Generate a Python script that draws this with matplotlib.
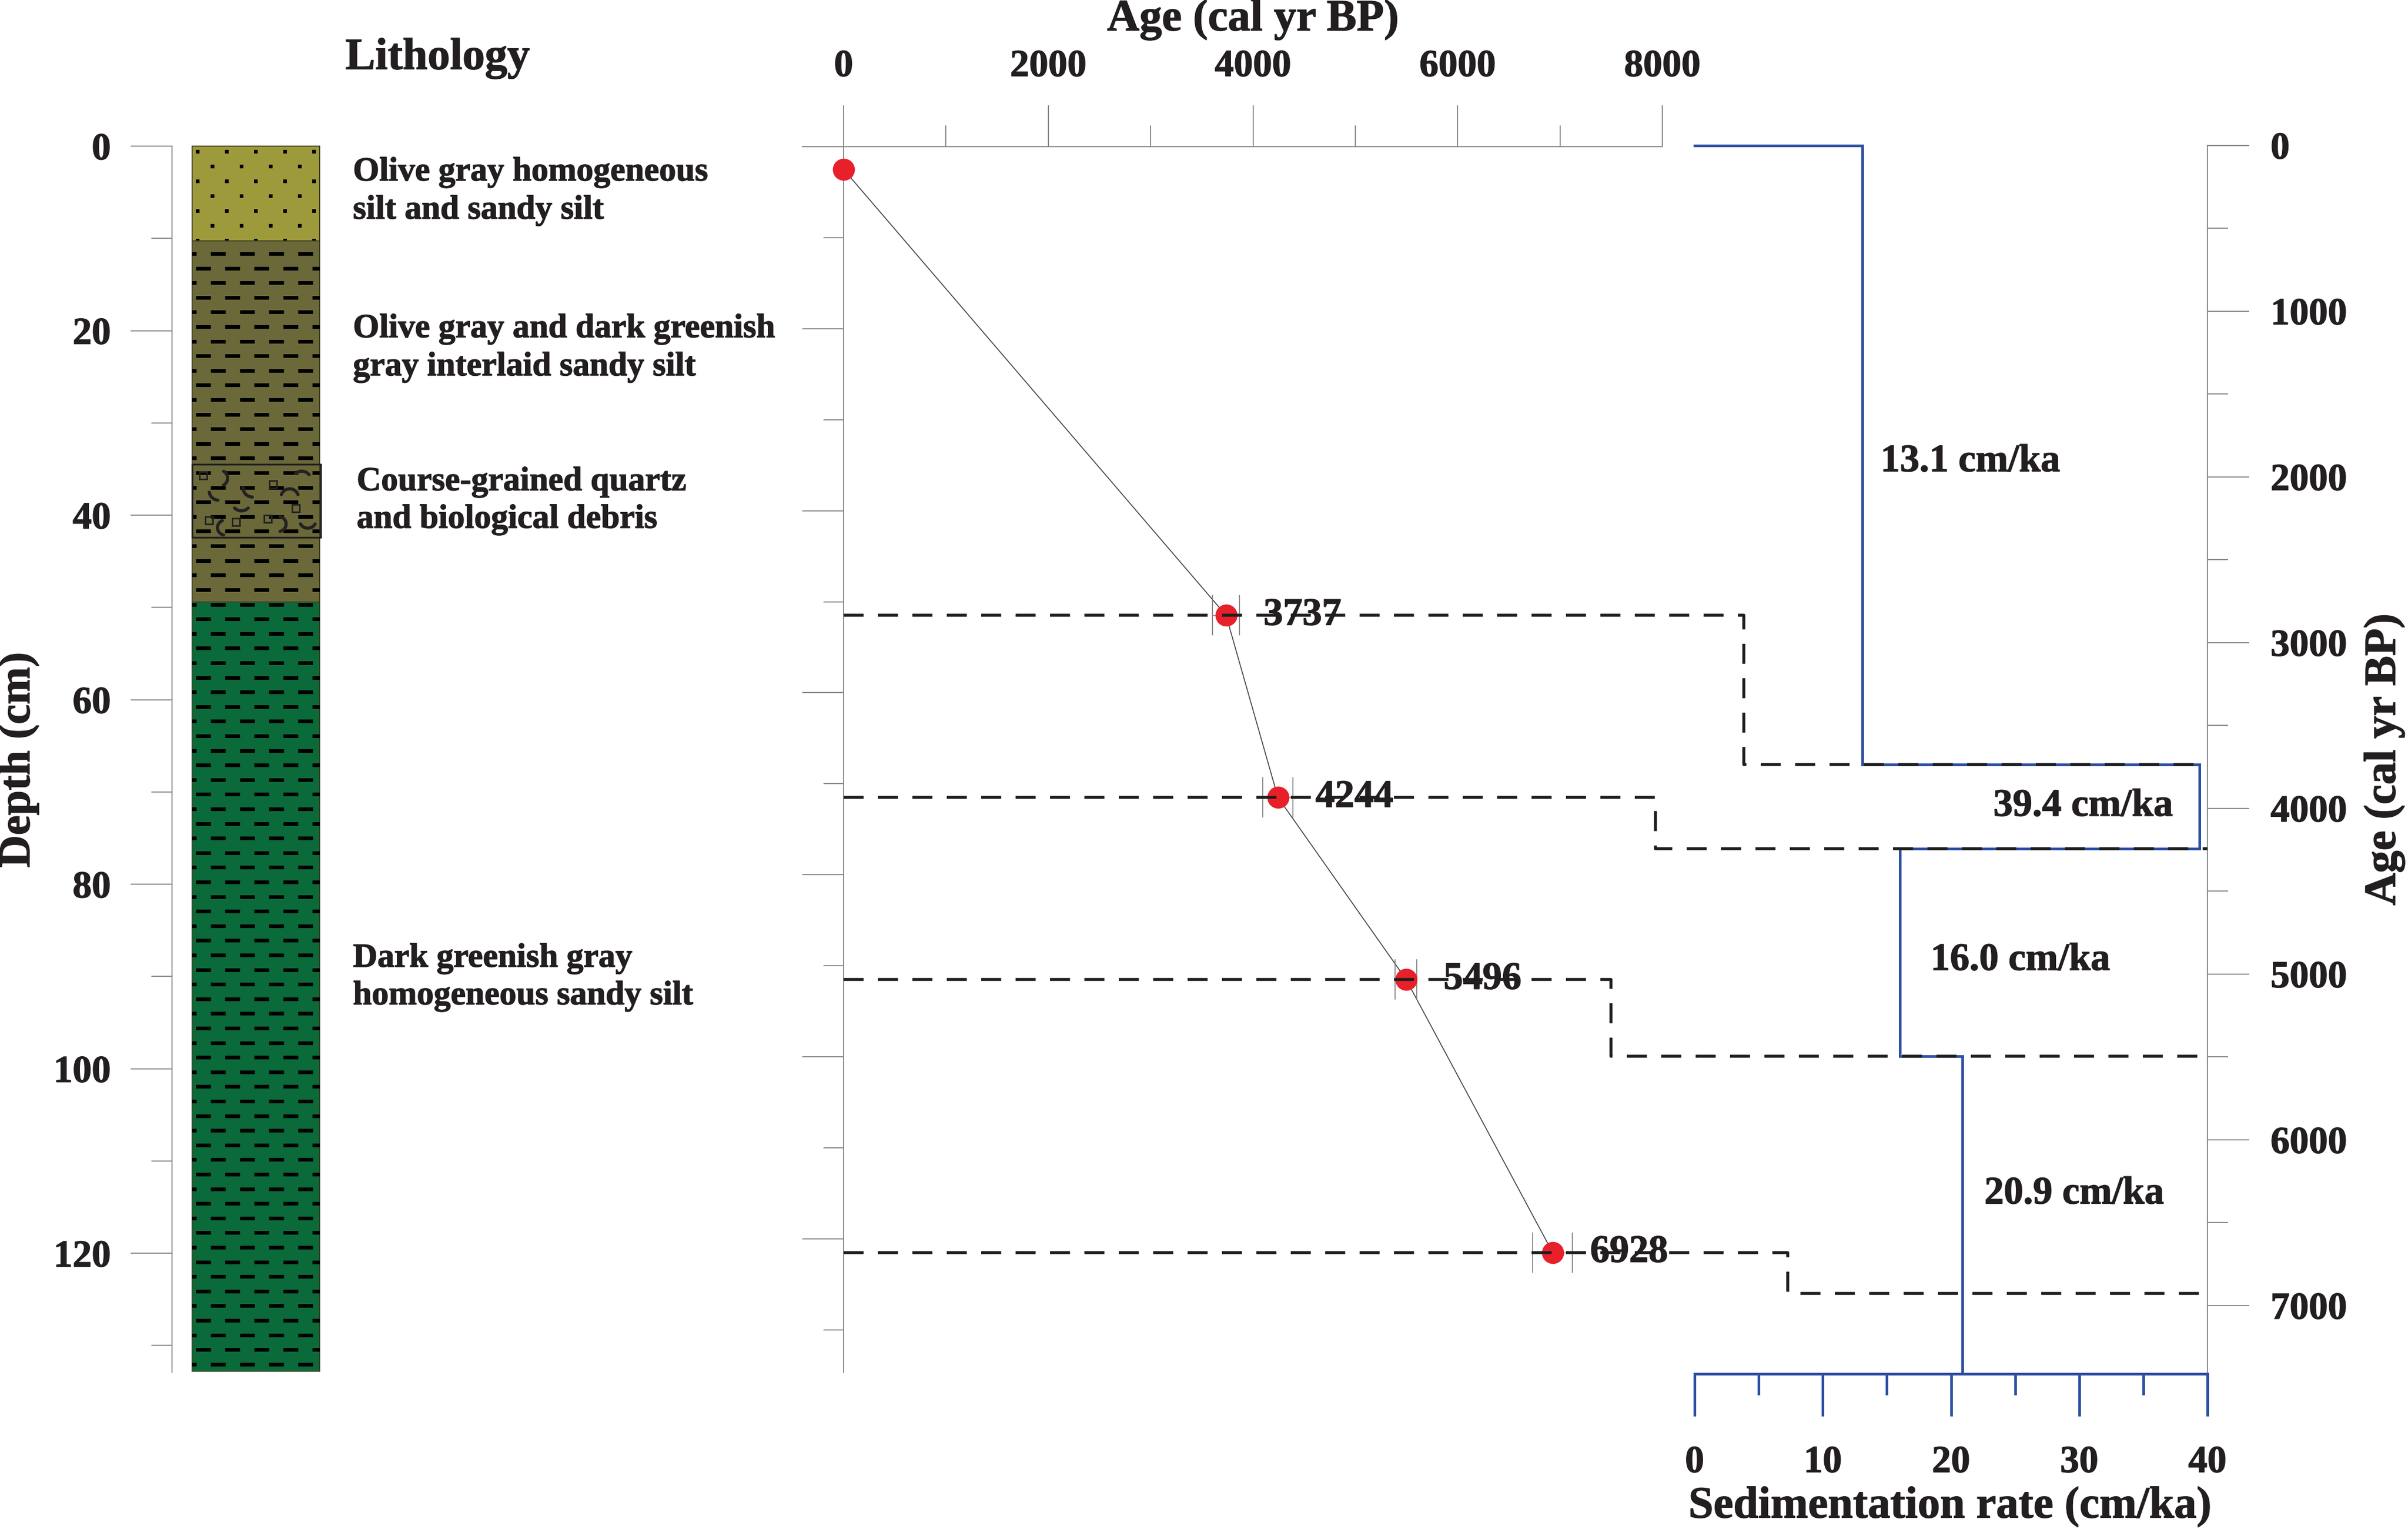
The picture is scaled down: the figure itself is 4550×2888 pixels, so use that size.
import numpy as np
import matplotlib
matplotlib.use('Agg')
import matplotlib.pyplot as plt
import matplotlib.patheffects as pe
from matplotlib.lines import Line2D
from matplotlib.patches import Rectangle
from matplotlib.ticker import MultipleLocator

# ------------------------------------------------------------------ data
depth_cm = [2.5, 51.5, 71.5, 91.5, 121.5]          # dated depths
age_bp = [0, 3737, 4244, 5496, 6928]               # calibrated ages
age_err = [0, 132, 148, 107, 195]                  # 1-sigma age ranges
rate_start_age = [0, 3737, 4244, 5496]             # start of each rate interval
sed_rate = [13.1, 39.4, 16.0, 20.9]                # cm/ka

layer_top = [0, 10.3, 49.4]
layer_bottom = [10.3, 49.4, 132.8]
layer_color = ['#9c9a3b', '#6b6939', '#0b6a3a']
layer_pattern = ['dots', 'dashes', 'dashes']
debris_top, debris_bottom = 34.5, 42.4

lith_labels = [
    ("Olive gray homogeneous", "silt and sandy silt"),
    ("Olive gray and dark greenish", "gray interlaid sandy silt"),
    ("Course-grained quartz", "and biological debris"),
    ("Dark greenish gray", "homogeneous sandy silt"),
]

depth_ticks = [0, 20, 40, 60, 80, 100, 120]
age_top_ticks = [0, 2000, 4000, 6000, 8000]
age_right_ticks = [0, 1000, 2000, 3000, 4000, 5000, 6000, 7000]
rate_ticks = [0, 10, 20, 30, 40]

# ---------------------------------------------------------------- layout
W, H, DPI = 4550, 2888, 100
PT = 72.0 / DPI
plt.rcParams['font.family'] = ['Liberation Serif', 'DejaVu Serif']
plt.rcParams['font.weight'] = 'bold'
TXT = '#231f20'
GRAY = '#8a8a8a'
BLUE = '#2d4fa3'
RED = '#e8202a'
HEAVY = [pe.withStroke(linewidth=1.0, foreground=TXT)]

fig = plt.figure(figsize=(W / DPI, H / DPI), dpi=DPI)


def add_ax(l, t, r, b):
    return fig.add_axes([l / W, 1 - b / H, (r - l) / W, (b - t) / H])


def ftext(x, y, s, **kw):
    fig.text(x / W, 1 - y / H, s, color=TXT, path_effects=HEAVY, **kw)


def heavy_ticklabels(ax):
    for lab in ax.get_xticklabels() + ax.get_yticklabels():
        lab.set_path_effects(HEAVY)


# ------------------------------------------------------ lithology column
ax_l = add_ax(363, 276, 604, 2592)
ax_l.set_xlim(0, 1)
ax_l.set_ylim(132.9, 0)
ax_l.patch.set_visible(False)
for s in ['top', 'right', 'bottom']:
    ax_l.spines[s].set_visible(False)
ax_l.spines['left'].set_position(('outward', 38 * PT))
ax_l.spines['left'].set_color(GRAY)
ax_l.spines['left'].set_linewidth(1.5)
ax_l.set_xticks([])
ax_l.set_yticks(depth_ticks)
ax_l.yaxis.set_minor_locator(MultipleLocator(10))
ax_l.tick_params(axis='y', which='major', length=78 * PT, width=1.5, color=GRAY,
                 labelsize=52, pad=27, labelcolor=TXT)
ax_l.tick_params(axis='y', which='minor', length=39 * PT, width=1.5, color=GRAY)
heavy_ticklabels(ax_l)

COLW = 241.0               # column width in px
PER = 55.0 / COLW          # pattern period
DASH = 28.0 / COLW
for i, (t, b) in enumerate(zip(layer_top, layer_bottom)):
    rect = Rectangle((0, t), 1, b - t, facecolor=layer_color[i], edgecolor='#3f3f22',
                     lw=1.4, zorder=1 + 2 * i, clip_on=False)
    ax_l.add_patch(rect)
    if layer_pattern[i] == 'dots':
        k = 0
        while 0.6 + 1.6 * k < b + 0.3:
            d = 0.6 + 1.6 * k
            ph = (10 if k % 2 == 0 else 38) / COLW
            xs = ph + PER * np.arange(0, 6)
            xs = xs[xs < 1.0]
            ln, = ax_l.plot(xs, np.full(len(xs), d), ls='none', marker='s',
                            ms=7 * PT, color='k', mew=0, zorder=2 + 2 * i)
            ln.set_clip_path(rect)
            k += 1
    else:
        k = 0
        while 11.65 + 1.584 * k < b + 0.3:
            d = 11.65 + 1.584 * k
            if d > t - 0.3:
                ph = (49 if k % 2 == 0 else 21) / COLW
                cs = ph + PER * np.arange(-1, 6)
                lc = ax_l.hlines(np.full(len(cs), d), cs - DASH / 2, cs + DASH / 2,
                                 colors='k', lw=7 * PT, zorder=2 + 2 * i)
                lc.set_capstyle('butt')
                lc.set_clip_path(rect)
            k += 1

# coarse-grained / biological debris box
ax_l.add_patch(Rectangle((0, debris_top), 1.008, debris_bottom - debris_top, fill=False,
                         edgecolor='#1e1e1e', lw=3.3 * PT, zorder=10, clip_on=False))
sq_x = [0.087, 0.635, 0.813, 0.133, 0.344, 0.593]
sq_d = [35.67, 36.66, 39.24, 40.56, 40.77, 40.39]
ax_l.plot(sq_x, sq_d, ls='none', marker='s', ms=14 * PT, mfc='none', mec='#222222',
          mew=3 * PT, zorder=11, clip_on=False)
arcs = [(0.216, 35.99, 15.0, -60, 60), (0.209, 37.33, 18.3, 95, 170),
        (0.472, 37.04, 17.3, 90, 180), (0.859, 36.28, 18.3, 230, 320),
        (0.765, 38.10, 16.7, 200, 340), (0.386, 38.48, 18.3, 45, 135),
        (0.257, 41.35, 14.0, 100, 250), (0.679, 40.96, 14.0, -80, 80),
        (0.907, 40.49, 16.0, 30, 150)]
for cx, cd, r, t1, t2 in arcs:
    th = np.radians(np.linspace(t1, t2, 30))
    ax_l.plot(cx + r * np.cos(th) / COLW, cd + r * np.sin(th) / 17.43, color='#222222',
              lw=6 * PT, solid_capstyle='round', zorder=11, clip_on=False)

# lithology descriptions
lab_x = [667, 667, 674, 667]
lab_y = [(326, 398), (622, 694), (911, 982), (1811, 1882)]
for (l1, l2), x, (y1, y2) in zip(lith_labels, lab_x, lab_y):
    ftext(x, y1, l1, fontsize=46, ha='left', va='center')
    ftext(x, y2, l2, fontsize=46, ha='left', va='center')

# --------------------------------------------------------- age-depth panel
A0, A8 = 1594.0, 3141.0
ax_a = add_ax(1516, 277, A8, 2592)
ax_a.set_xlim(-(A0 - 1516) / (A8 - A0) * 8000, 8000)
ax_a.set_ylim((2592 - 277) / 17.19, 0)
ax_a.patch.set_visible(False)
for s in ['bottom', 'right']:
    ax_a.spines[s].set_visible(False)
ax_a.spines['left'].set_position(('data', 0))
for s in ['left', 'top']:
    ax_a.spines[s].set_color(GRAY)
    ax_a.spines[s].set_linewidth(1.5)
ax_a.xaxis.set_ticks_position('top')
ax_a.set_xticks(age_top_ticks)
ax_a.xaxis.set_minor_locator(MultipleLocator(1000))
ax_a.tick_params(axis='x', which='major', direction='out', length=78 * PT, width=1.5,
                 color=GRAY, labelsize=52, pad=29, labelcolor=TXT)
ax_a.tick_params(axis='x', which='minor', direction='out', length=40 * PT, width=1.5,
                 color=GRAY)
ax_a.yaxis.set_major_locator(MultipleLocator(20))
ax_a.yaxis.set_minor_locator(MultipleLocator(10))
ax_a.tick_params(axis='y', which='major', length=78 * PT, width=1.5, color=GRAY,
                 labelleft=False)
ax_a.tick_params(axis='y', which='minor', length=38 * PT, width=1.5, color=GRAY)
heavy_ticklabels(ax_a)

ax_a.plot(age_bp, depth_cm, color='#444444', lw=1.3, zorder=2, clip_on=False)
ax_a.errorbar(age_bp[1:], depth_cm[1:], xerr=age_err[1:], fmt='none', ecolor='#777777',
              elinewidth=1.0, capsize=27.5, capthick=1.2, zorder=2.5, clip_on=False)
ax_a.plot(age_bp, depth_cm, ls='none', marker='o', ms=30, mfc=RED, mec=RED, mew=0,
          zorder=3, clip_on=False)
for a, d in zip(age_bp[1:], depth_cm[1:]):
    ax_a.annotate(f"{a}", xy=(a, d), xytext=(51, 0), textcoords='offset points',
                  ha='left', va='center', fontsize=53, color=TXT, zorder=4,
                  path_effects=HEAVY)

# ------------------------------------------------ sedimentation-rate panel
ax_r = add_ax(3202, 274.5, 4171, 2595)
RATE_AGE_MAX = (2595 - 274.5) / 0.31305
ax_r.set_xlim(0, 40)
ax_r.set_ylim(RATE_AGE_MAX, 0)
ax_r.patch.set_visible(False)
for s in ['top', 'left']:
    ax_r.spines[s].set_visible(False)
ax_r.spines['bottom'].set_color(BLUE)
ax_r.spines['bottom'].set_linewidth(5 * PT)
ax_r.spines['right'].set_color(GRAY)
ax_r.spines['right'].set_linewidth(1.5)
ax_r.set_xticks(rate_ticks)
ax_r.xaxis.set_minor_locator(MultipleLocator(5))
ax_r.tick_params(axis='x', which='major', length=80 * PT, width=5 * PT, color=BLUE,
                 labelsize=52, pad=40, labelcolor=TXT)
ax_r.tick_params(axis='x', which='minor', length=40 * PT, width=5 * PT, color=BLUE)
ax_r.yaxis.tick_right()
ax_r.set_yticks(age_right_ticks)
ax_r.yaxis.set_minor_locator(MultipleLocator(500))
ax_r.tick_params(axis='y', which='major', length=79 * PT, width=1.5, color=GRAY,
                 labelsize=52, pad=29, labelcolor=TXT)
ax_r.tick_params(axis='y', which='minor', length=39 * PT, width=1.5, color=GRAY)
heavy_ticklabels(ax_r)

xs, ys = [0], [0]
ends = rate_start_age[1:] + [RATE_AGE_MAX]
for r, a0, a1 in zip(sed_rate, rate_start_age, ends):
    xs += [r, r]
    ys += [a0, a1]
ax_r.plot(xs, ys, color=BLUE, lw=5 * PT, zorder=3, clip_on=False,
          solid_joinstyle='miter')

rate_lab_pos = [(14.5, 1909), (23.3, 3988), (18.4, 4918), (22.6, 6327)]
for r, (x, y) in zip(sed_rate, rate_lab_pos):
    ax_r.text(x, y, f"{r:.1f} cm/ka", ha='left', va='center', fontsize=53, color=TXT,
              path_effects=HEAVY)

# ----------------------------------------- dashed tie lines between panels
kink_rate = [3.84, -3.06, -6.53, 7.25]
to_fig = fig.transFigure.inverted()
for a, d, k in zip(age_bp[1:], depth_cm[1:], kink_rate):
    p0 = ax_a.transData.transform((0, d))
    p1 = (ax_r.transData.transform((k, 0))[0], p0[1])
    p2 = ax_r.transData.transform((k, a))
    p3 = ax_r.transData.transform((40, a))
    pts = to_fig.transform(np.array([p0, p1, p2, p3]))
    fig.add_artist(Line2D(pts[:, 0], pts[:, 1], transform=fig.transFigure,
                          color='#1e1e1e', lw=4.0, linestyle=(0, (6.8, 4.9)),
                          zorder=5))

# ------------------------------------------------------------------ titles
ftext(827, 110, "Lithology", fontsize=61, ha='center', va='center')
ftext(2368, 37, "Age (cal yr BP)", fontsize=61, ha='center', va='center')
ftext(35, 1435, "Depth (cm)", fontsize=61, ha='center', va='center', rotation=90)
ftext(4505, 1434, "Age (cal yr BP)", fontsize=61, ha='center', va='center', rotation=90)
ftext(3685, 2846, "Sedimentation rate (cm/ka)", fontsize=61, ha='center', va='center')

fig.savefig('out.png', dpi=DPI, facecolor='white')
